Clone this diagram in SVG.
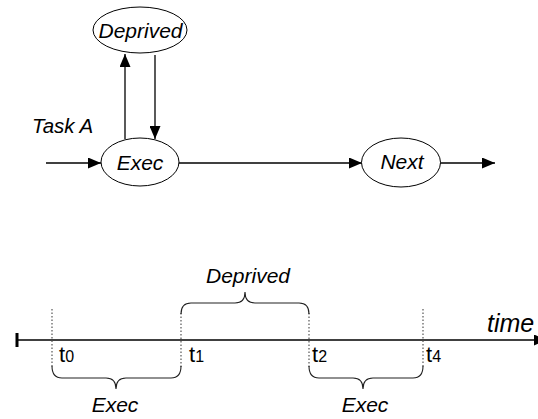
<svg xmlns="http://www.w3.org/2000/svg" width="538" height="419" viewBox="0 0 538 419">
  <style>
    .node ellipse { fill: #fff; stroke: #000; stroke-width: 1; }
    .lbl { font-family: "Liberation Sans", Arial, sans-serif; font-style: italic; fill: #000; }
    .tl { font-family: "Liberation Sans", Arial, sans-serif; fill: #000; font-size: 22px; }
    .tl tspan { font-size: 16px; }
    .edge { stroke: #000; stroke-width: 1.3; fill: none; }
    .dot { stroke: #555; stroke-width: 1.2; stroke-dasharray: 1.5 2; fill: none; }
    .brace { stroke: #222; stroke-width: 1.1; fill: none; }
  </style>
  <defs>
    <marker id="arrow" markerUnits="userSpaceOnUse" markerWidth="14" markerHeight="11" refX="13" refY="5.5" orient="auto">
      <path d="M0,0 L13,5.5 L0,11 Z" fill="#000"/>
    </marker>
  </defs>

  <!-- state graph connectors -->
  <g id="connectors">
    <line class="edge" x1="46" y1="163" x2="101" y2="163" marker-end="url(#arrow)"/>
    <line class="edge" x1="125" y1="139" x2="125" y2="54" marker-end="url(#arrow)"/>
    <line class="edge" x1="155" y1="55" x2="155" y2="139" marker-end="url(#arrow)"/>
    <line class="edge" x1="179" y1="163" x2="362" y2="163" marker-end="url(#arrow)"/>
    <line class="edge" x1="440" y1="163" x2="495" y2="163" marker-end="url(#arrow)"/>
  </g>

  <text class="lbl" x="32" y="133" font-size="20.5">Task A</text>

  <g id="deprived" class="node">
    <ellipse cx="140" cy="30" rx="47" ry="23"/>
    <text class="lbl" x="140.5" y="38" font-size="21" text-anchor="middle">Deprived</text>
  </g>
  <g id="exec" class="node">
    <ellipse cx="140" cy="162" rx="39" ry="24"/>
    <text class="lbl" x="140" y="170" font-size="21" text-anchor="middle">Exec</text>
  </g>
  <g id="next" class="node">
    <ellipse cx="401" cy="162.5" rx="39.5" ry="24.5"/>
    <text class="lbl" x="402" y="169" font-size="21" text-anchor="middle">Next</text>
  </g>

  <!-- timeline -->
  <g id="timeline">
    <line class="edge" x1="17" y1="340" x2="547" y2="340" marker-end="url(#arrow)"/>
    <line x1="17" y1="333" x2="17" y2="347" stroke="#000" stroke-width="3"/>
    <text class="lbl" x="487" y="332" font-size="25">time</text>

    <line class="dot" x1="52" y1="309" x2="52" y2="368"/>
    <line class="dot" x1="181" y1="313" x2="181" y2="368"/>
    <line class="dot" x1="309" y1="313" x2="309" y2="368"/>
    <line class="dot" x1="423" y1="309" x2="423" y2="368"/>

    <text class="tl" x="59" y="362">t<tspan>0</tspan></text>
    <text class="tl" x="189" y="362">t<tspan>1</tspan></text>
    <text class="tl" x="312" y="362">t<tspan>2</tspan></text>
    <text class="tl" x="426" y="362">t<tspan>4</tspan></text>

    <path class="brace" d="M52,366 Q52,378 62,378 L106,378 Q116,378 116,389 Q116,378 126,378 L171,378 Q181,378 181,366"/>
    <path class="brace" d="M181,314 Q181,303 191,303 L235,303 Q245,303 245,292 Q245,303 255,303 L299,303 Q309,303 309,314"/>
    <path class="brace" d="M309,366 Q309,378 319,378 L353,378 Q363,378 363,389 Q363,378 373,378 L413,378 Q423,378 423,366"/>

    <text class="lbl" x="248" y="283" font-size="21" text-anchor="middle">Deprived</text>
    <text class="lbl" x="115" y="412" font-size="21" text-anchor="middle">Exec</text>
    <text class="lbl" x="365" y="412" font-size="21" text-anchor="middle">Exec</text>
  </g>
</svg>
